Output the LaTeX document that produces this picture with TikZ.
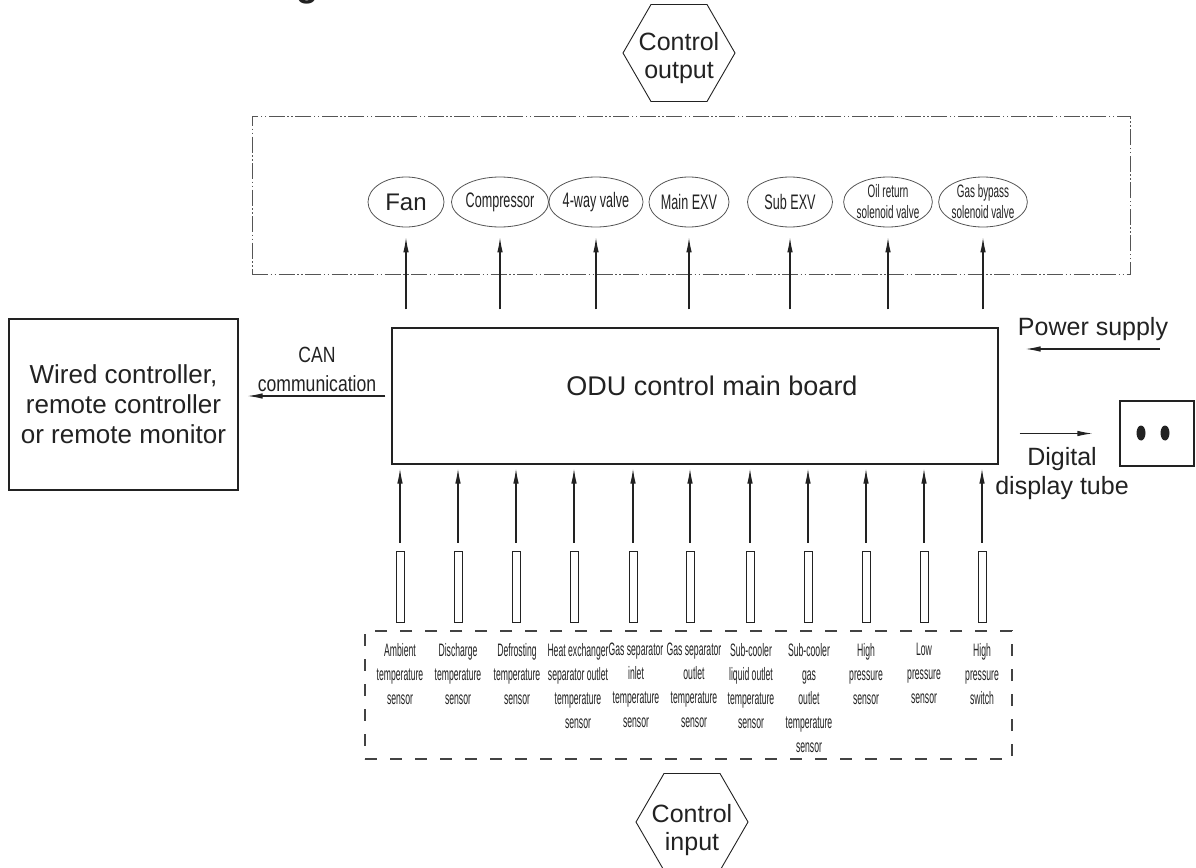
\documentclass[tikz,border=0pt]{standalone}
\usepackage{fontspec}
\setmainfont{Liberation Sans}
\newfontfamily\narrowE[FakeStretch=0.6]{Liberation Sans}
\newfontfamily\narrowS[FakeStretch=0.55]{Liberation Sans}
\newfontfamily\narrowT[FakeStretch=0.48]{Liberation Sans}
\newfontfamily\narrowC[FakeStretch=0.8]{Liberation Sans}
\usetikzlibrary{arrows.meta,shapes.geometric,calc}
\definecolor{ink}{HTML}{222222}
\definecolor{soft}{HTML}{555555}
\begin{document}
\begin{tikzpicture}[x=1pt,y=-1pt,
  every node/.style={inner sep=0pt, text=ink},
  arr/.style={draw=ink, line width=1.1pt, -{Latex[length=15pt,width=5.5pt]}},
  outell/.style={ellipse, draw=soft, line width=0.8pt, minimum width=80pt, minimum height=50pt, font=\narrowE\fontsize{21}{23}\selectfont},
  smallell/.style={outell, align=center, font=\narrowS\fontsize{18}{21}\selectfont},
  hexa/.style={regular polygon, regular polygon sides=6, minimum size=112pt, draw=ink, line width=0.9pt},
  probe/.style={rectangle, draw=ink, line width=1pt, minimum width=8pt, minimum height=71pt},
  sensortxt/.style={anchor=north, align=center, font=\narrowT\fontsize{18}{24}\selectfont},
  biglbl/.style={font=\fontsize{25}{28}\selectfont},
]
\useasboundingbox (0,0) rectangle (1196,867);
\fill[white] (0,0) rectangle (1196,867);

% clipped title remnant
\node[anchor=base, font=\bfseries\fontsize{36}{40}\selectfont] (title) at (307,-3) {g};

% control output
\node[hexa] (ctrlout) at (679,53) {};
\node[biglbl, align=center, anchor=north] (ctrlouttxt) at (679,32) {Control\\output};

% output box
\node[draw=soft, line width=0.8pt, dash pattern=on 16pt off 2.5pt on 1.5pt off 2.5pt on 1.5pt off 2.5pt, minimum width=878pt, minimum height=158pt] (outbox) at (691,195) {};

\node[outell, minimum width=76pt, font=\fontsize{24}{26}\selectfont] (fan) at (406,202) {Fan};
\node[outell] (comp) at (500,202) {Compressor};
\node[outell] (fourway) at (596,202) {4-way valve};
\node[outell] (mainexv) at (689,202) {Main EXV};
\node[outell, minimum width=85pt] (subexv) at (790,202) {Sub EXV};
\node[smallell, minimum width=84pt] (oilret) at (888,202) {Oil return\\solenoid valve};
\node[smallell, minimum width=84pt] (gasby) at (983,202) {Gas bypass\\solenoid valve};

% main board
\node[draw=ink, line width=1.2pt, minimum width=606pt, minimum height=136pt] (board) at (695,396) {};
\node[font=\fontsize{27}{30}\selectfont] (boardtxt) at (712,386) {ODU control main board};

\foreach \n in {fan,comp,fourway,mainexv,subexv,oilret,gasby}
  \draw[arr] ([yshift=18pt]board.north -| \n.south) -- ([yshift=-10pt]\n.south);

% wired controller
\node[draw=ink, line width=1.1pt, minimum width=229pt, minimum height=171pt, align=center, font=\fontsize{26}{30}\selectfont] (wired) at (123.5,404.5) {Wired controller,\\remote controller\\or remote monitor};
\draw[arr] ([xshift=-6pt]board.west) -- ([xshift=9pt]wired.east |- board.west);
\node[anchor=north, align=center, font=\narrowC\fontsize{22}{29}\selectfont] (canlbl) at (317,347) {CAN\\communication};

% power supply
\coordinate (psin) at (1160,349);
\draw[arr] (psin) -- ([xshift=27pt]board.east |- psin);
\node[anchor=base, font=\fontsize{25}{29}\selectfont] (pslbl) at (1093,335) {Power supply};

% display
\node[draw=ink, line width=1.1pt, minimum width=74pt, minimum height=65pt] (display) at (1157,433.5) {};
\node[ellipse, fill=ink, minimum width=9pt, minimum height=15pt] (dotA) at (1141,433) {};
\node[ellipse, fill=ink, minimum width=9pt, minimum height=15pt] (dotB) at (1165,433) {};
\draw[arr] ([xshift=21pt]board.east |- display.west) -- ([xshift=-27pt]display.west);
\node[anchor=north, align=center, font=\fontsize{25}{29}\selectfont] (displbl) at (1062,447) {Digital\\display tube};

% sensors
\foreach \x [count=\i] in {400,458,516,574,633,690,750,808,866,924,982} {
  \node[probe] (p\i) at (\x,586.5) {};
  \draw[arr] ([yshift=8pt]p\i.north) -- ([yshift=-4pt]board.south -| p\i.north);
}

\node[draw=ink!85, line width=2pt, dash pattern=on 12pt off 13pt, minimum width=647pt, minimum height=128pt] (inbox) at (688.5,695) {};

\node[sensortxt] (t1) at (400,643) {Ambient\\temperature\\sensor};
\node[sensortxt] (t2) at (458,643) {Discharge\\temperature\\sensor};
\node[sensortxt] (t3) at (517,643) {Defrosting\\temperature\\sensor};
\node[sensortxt] (t4) at (578,643) {Heat exchanger\\separator outlet\\temperature\\sensor};
\node[sensortxt] (t5) at (636,643) {Gas separator\\inlet\\temperature\\sensor};
\node[sensortxt] (t6) at (694,643) {Gas separator\\outlet\\temperature\\sensor};
\node[sensortxt] (t7) at (751,643) {Sub-cooler\\liquid outlet\\temperature\\sensor};
\node[sensortxt] (t8) at (809,643) {Sub-cooler\\gas\\outlet\\temperature\\sensor};
\node[sensortxt] (t9) at (866,643) {High\\pressure\\sensor};
\node[sensortxt] (t10) at (924,643) {Low\\pressure\\sensor};
\node[sensortxt] (t11) at (982,643) {High\\pressure\\switch};

% control input
\node[hexa] (ctrlin) at (692,822) {};
\node[biglbl, align=center, anchor=north] (ctrlintxt) at (692,804) {Control\\input};
\end{tikzpicture}
\end{document}
